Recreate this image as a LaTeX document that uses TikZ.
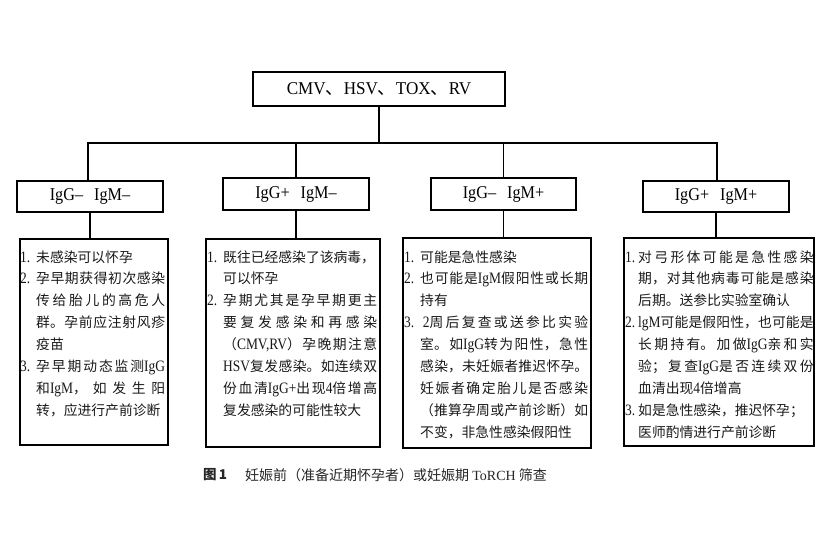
\documentclass[tikz,border=0pt]{standalone}
\usepackage{fontspec}
\setmainfont{Liberation Serif}
\newfontfamily\cjk{Noto Sans CJK SC}
\newfontfamily\latf[Scale=1.15,FakeStretch=0.85]{Liberation Serif}
\newfontfamily\lvf[FakeStretch=0.9]{Liberation Serif}
\newfontfamily\topf[FakeStretch=0.95]{Liberation Serif}
\newlength\hangw
\newcommand\boxitem[1]{\par\hangindent=\hangw\hangafter=1\noindent\makebox[\hangw][l]{\latf #1}}
\newcommand\la[1]{{\latf #1}}
\newcommand\boxtext[3]{\parbox[t]{#1}{\cjk\fontsize{13.8}{21.9}\selectfont
  \XeTeXlinebreaklocale "zh"\XeTeXlinebreakskip=0pt plus 4pt\relax
  \tolerance=9999\hbadness=10000\hfuzz=20pt\parindent=0pt\setlength\hangw{#2}#3\par}}
\tikzset{
  bx/.style={draw=black, line width=1.6pt, inner sep=0pt},
  topbox/.style={bx, minimum width=252pt, minimum height=34pt, font=\fontsize{18}{18}\topf},
  lvbox/.style={bx, minimum width=146pt, minimum height=31pt, font=\fontsize{18}{18}\lvf},
  infobox/.style={bx, anchor=north west},
  txt/.style={inner sep=0pt, anchor=base west, text=black!90},
  conn/.style={draw=black, line width=1.5pt}
}
\begin{document}
\begin{tikzpicture}[x=1pt,y=-1pt]
\useasboundingbox (0,0) rectangle (832,541);
% top
\node[topbox] (top) at (379,89) {CMV{\cjk 、}HSV{\cjk 、}TOX{\cjk 、}RV};
% level 2
\node[lvbox] (g1) at (90,196.5) {IgG–\hspace{11pt}IgM–};
\node[lvbox, minimum height=32pt] (g2) at (296,194) {IgG+\hspace{11pt}IgM–};
\node[lvbox, minimum height=32pt, minimum width=145pt] (g3) at (503.5,194) {IgG–\hspace{11pt}IgM+};
\node[lvbox] (g4) at (716,196.5) {IgG+\hspace{11pt}IgM+};
% level 3 boxes
\node[infobox, minimum width=148pt, minimum height=206pt] (b1) at (19,238) {};
\node[infobox, minimum width=174pt, minimum height=208pt] (b2) at (205,238) {};
\node[infobox, minimum width=188pt, minimum height=210pt] (b3) at (402,237) {};
\node[infobox, minimum width=190pt, minimum height=208pt] (b4) at (623,237) {};
% texts
\node[txt] (t1) at (20,262) {\boxtext{145pt}{16pt}{%
\boxitem{1.}\mbox{未感染可以怀孕}
\boxitem{2.}孕早期获得初次感染\linebreak
传给胎儿的高危人\linebreak
群。孕前应注射风疹\linebreak
\mbox{疫苗}
\boxitem{3.}孕早期动态监测\la{IgG}\linebreak
和\la{IgM}，如发生阳\linebreak
\mbox{转，应进行产前诊断}}};
\node[txt] (t2) at (207,262) {\boxtext{170pt}{16pt}{%
\boxitem{1.}\mbox{既往已经感染了该病毒，}\newline
\mbox{可以怀孕}
\boxitem{2.}孕期尤其是孕早期更主\linebreak
要复发感染和再感染\linebreak
（\la{CMV,RV}）孕晚期注意\linebreak
\la{HSV}复发感染。如连续双\linebreak
份血清\la{IgG+}出现\la{4}倍增高\linebreak
\mbox{复发感染的可能性较大}}};
\node[txt] (t3) at (404,262) {\boxtext{184pt}{16pt}{%
\boxitem{1.}\mbox{可能是急性感染}
\boxitem{2.}也可能是\la{IgM}假阳性或长期\linebreak
\mbox{持有}
\boxitem{3.}\la{\,2}周后复查或送参比实验\linebreak
室。如\la{IgG}转为阳性，急性\linebreak
感染，未妊娠者推迟怀孕。\linebreak
妊娠者确定胎儿是否感染\linebreak
（推算孕周或产前诊断）如\linebreak
\mbox{不变，非急性感染假阳性}}};
\node[txt] (t4) at (625,262) {\boxtext{188.5pt}{13pt}{%
\boxitem{1.}对弓形体可能是急性感染\linebreak
期，对其他病毒可能是感染\linebreak
\mbox{后期。送参比实验室确认}
\boxitem{2.}\la{lgM}可能是假阳性，也可能是\linebreak
长期持有。加做\la{IgG}亲和实\linebreak
验；复查\la{IgG}是否连续双份\linebreak
\mbox{血清出现\la{4}倍增高}
\boxitem{3.}\mbox{如是急性感染，推迟怀孕；}\newline
\mbox{医师酌情进行产前诊断}}};
% connectors
\coordinate (bl) at (88,143);
\coordinate (br) at (717,143);
\draw[conn] (top.south) -- (top.south |- bl);
\draw[conn, line cap=rect] (bl) -- (br);
\draw[conn] (bl) -- (bl |- g1.north);
\draw[conn] (g2.north |- bl) -- (g2.north);
\draw[conn] (g3.north |- bl) -- (g3.north);
\draw[conn] (br) -- (br |- g4.north);
\draw[conn] (g1.south) -- (g1.south |- b1.north);
\draw[conn] (g2.south) -- (g2.south |- b2.north);
\draw[conn] (g3.south) -- (g3.south |- b3.north);
\draw[conn] (g4.south) -- (g4.south |- b4.north);
% caption
\node[inner sep=0pt, anchor=west, text=black!85] (fig) at (203,475) {\cjk\bfseries\fontsize{13.5}{13.5}\selectfont 图\,1};
\node[inner sep=0pt, anchor=west, text=black!85] (cap) at (245,475) {\cjk\fontsize{14}{14}\selectfont 妊娠前（准备近期怀孕者）或妊娠期 {\rmfamily ToRCH} 筛查};
\end{tikzpicture}
\end{document}
